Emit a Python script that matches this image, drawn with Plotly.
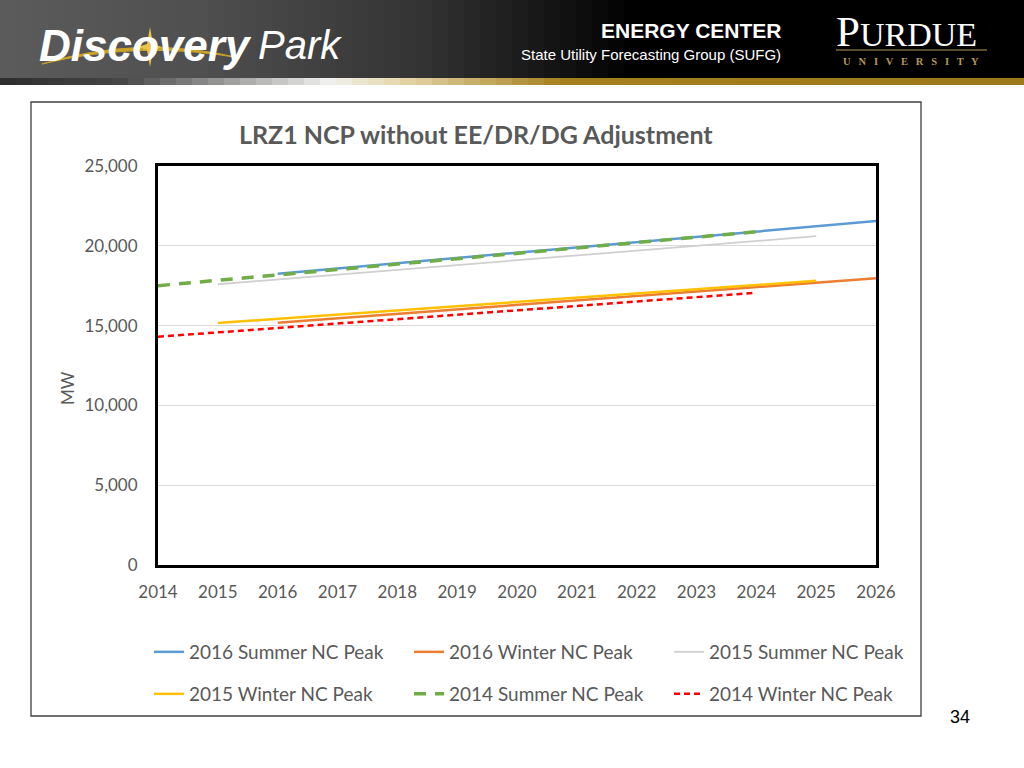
import plotly.graph_objects as go

W, H = 1024, 768

# ---------------- data ----------------
years_2016 = list(range(2016, 2027))
years_2015 = list(range(2015, 2026))
years_2014 = list(range(2014, 2025))

summer_2016 = [18250, 18580, 18910, 19240, 19570, 19900, 20230, 20560, 20890, 21220, 21550]
winter_2016 = [15180, 15460, 15740, 16020, 16300, 16580, 16860, 17140, 17420, 17700, 17970]
summer_2015 = [17590, 17890, 18190, 18490, 18790, 19090, 19390, 19690, 19990, 20290, 20600]
winter_2015 = [15160, 15420, 15690, 15950, 16220, 16480, 16750, 17010, 17280, 17540, 17810]
summer_2014 = [17500, 17840, 18180, 18520, 18860, 19190, 19530, 19870, 20210, 20540, 20880]
winter_2014 = [14300, 14580, 14850, 15130, 15400, 15680, 15960, 16230, 16510, 16780, 17060]

x_ticks = list(range(2014, 2027))
y_ticks = [0, 5000, 10000, 15000, 20000, 25000]
y_tick_labels = ["0", "5,000", "10,000", "15,000", "20,000", "25,000"]

title_text = "LRZ1 NCP without EE/DR/DG Adjustment"
FONT = "Lato, 'Noto Sans', sans-serif"
TXT = "#595959"


def px(x):
    return x / W


def py(y):
    return 1 - y / H


fig = go.Figure()

series = [
    ("2016 Summer NC Peak", years_2016, summer_2016, dict(color="#5b9bd5", width=2.5), "legend"),
    ("2016 Winter NC Peak", years_2016, winter_2016, dict(color="#ed7d31", width=2.5), "legend"),
    ("2015 Summer NC Peak", years_2015, summer_2015, dict(color="#cfcfcf", width=1.8), "legend"),
    ("2015 Winter NC Peak", years_2015, winter_2015, dict(color="#ffc000", width=2.5), "legend2"),
    ("2014 Summer NC Peak", years_2014, summer_2014, dict(color="#70ad47", width=3.5, dash="12px,9px"), "legend2"),
    ("2014 Winter NC Peak", years_2014, winter_2014, dict(color="#ff0000", width=2.5, dash="6px,4px"), "legend2"),
]
for name, xs, ys, line, lg in series:
    fig.add_trace(go.Scatter(x=xs, y=ys, mode="lines", name=name, line=line, legend=lg))

shapes = []
# header background gradient (decorative)
n = 64
for i in range(n):
    x0 = i * W / n
    xc = x0 + W / n / 2
    if xc < 200:
        g = 92 - 12 * xc / 200
    elif xc < 420:
        g = 80 - 28 * (xc - 200) / 220
    elif xc < 640:
        g = 52 - 52 * (xc - 420) / 220
    else:
        g = 0
    g = int(max(0, g))
    shapes.append(dict(type="rect", xref="paper", yref="paper", x0=px(x0), x1=px(x0 + W / n + 1),
                       y0=py(78), y1=py(0), fillcolor=f"rgb({g},{g},{g})", line=dict(width=0), layer="below"))
# gold strip
stops = [(0, (45, 45, 45)), (120, (70, 70, 70)), (330, (240, 240, 238)), (400, (230, 215, 170)),
         (560, (165, 128, 30)), (1024, (155, 120, 28))]


def strip_col(x):
    for (a, ca), (b, cb) in zip(stops[:-1], stops[1:]):
        if a <= x <= b:
            t = (x - a) / (b - a)
            return tuple(int(ca[k] + (cb[k] - ca[k]) * t) for k in range(3))
    return stops[-1][1]


for i in range(n):
    x0 = i * W / n
    c = strip_col(x0 + W / n / 2)
    shapes.append(dict(type="rect", xref="paper", yref="paper", x0=px(x0), x1=px(x0 + W / n + 1),
                       y0=py(85), y1=py(78), fillcolor=f"rgb{c}", line=dict(width=0), layer="below"))

# gold swoosh and star in logo
shapes.append(dict(type="path", xref="paper", yref="paper",
                   path=f"M {px(42)},{py(64)} Q {px(140)},{py(34)} {px(240)},{py(58)} Q {px(140)},{py(40)} {px(42)},{py(64)} Z",
                   fillcolor="#c9a227", line=dict(color="#c9a227", width=1)))
sx, sy = 150, 47
shapes.append(dict(type="path", xref="paper", yref="paper",
                   path=(f"M {px(sx)},{py(sy-20)} L {px(sx+3)},{py(sy-3)} L {px(sx+12)},{py(sy)} L {px(sx+3)},{py(sy+3)} "
                         f"L {px(sx)},{py(sy+20)} L {px(sx-3)},{py(sy+3)} L {px(sx-12)},{py(sy)} L {px(sx-3)},{py(sy-3)} Z"),
                   fillcolor="#e8c547", line=dict(width=0)))
# Purdue rule
shapes.append(dict(type="line", xref="paper", yref="paper", x0=px(836), x1=px(987), y0=py(50), y1=py(50),
                   line=dict(color="#b5985a", width=1)))
# outer chart box
shapes.append(dict(type="rect", xref="paper", yref="paper", x0=px(31), x1=px(921), y0=py(716), y1=py(102),
                   line=dict(color="#3f3f3f", width=1.3), fillcolor="rgba(0,0,0,0)", layer="below"))

annotations = [
    dict(text="<b><i>Discovery</i></b>", x=px(37), y=py(45), xanchor="left", yanchor="middle",
         font=dict(family="'Liberation Sans', Arial", size=44, color="white")),
    dict(text="<i>Park</i>", x=px(256), y=py(45), xanchor="left", yanchor="middle",
         font=dict(family="'Liberation Sans', Arial", size=40, color="white")),
    dict(text="<b>ENERGY CENTER</b>", x=px(783), y=py(30), xanchor="right", yanchor="middle",
         font=dict(family="'Liberation Sans', Arial", size=21, color="white")),
    dict(text="State Utility Forecasting Group (SUFG)", x=px(783), y=py(54), xanchor="right", yanchor="middle",
         font=dict(family="'Liberation Sans', Arial", size=15, color="white")),
    dict(text='<span style="font-size:43px">P</span>URDUE', x=px(834), y=py(31), xanchor="left", yanchor="middle",
         font=dict(family="'Liberation Serif', 'DejaVu Serif', serif", size=34, color="white")),
    dict(text="<b>U   N   I   V   E   R   S   I   T   Y</b>", x=px(911), y=py(61), xanchor="center", yanchor="middle",
         font=dict(family="'Liberation Serif', 'DejaVu Serif', serif", size=10.5, color="#b5985a")),
    dict(text=f"<b>{title_text}</b>", x=px(476), y=py(134), xanchor="center", yanchor="middle",
         font=dict(family=FONT, size=25, color=TXT)),
    dict(text="MW", x=px(67), y=py(388), xanchor="center", yanchor="middle", textangle=-90,
         font=dict(family=FONT, size=17, color=TXT)),
    dict(text="34", x=px(960), y=py(717), xanchor="center", yanchor="middle",
         font=dict(family="'Liberation Sans', Arial", size=18, color="black")),
]
for a in annotations:
    a.update(xref="paper", yref="paper", showarrow=False)

fig.update_layout(
    width=W, height=H,
    margin=dict(l=0, r=0, t=0, b=0, autoexpand=False),
    paper_bgcolor="white", plot_bgcolor="white",
    shapes=shapes, annotations=annotations,
    font=dict(family=FONT, color=TXT, size=17),
    xaxis=dict(domain=[px(158), px(876)], range=[2014, 2026], tickvals=x_ticks,
               ticktext=[str(v) for v in x_ticks], showgrid=False, zeroline=False,
               showline=True, linecolor="black", linewidth=3, mirror=True,
               ticks="", ticklabelstandoff=10, tickfont=dict(size=17, color=TXT)),
    yaxis=dict(domain=[py(565), py(166)], range=[0, 25000], tickvals=y_ticks, ticktext=y_tick_labels,
               showgrid=True, gridcolor="#d9d9d9", gridwidth=1, zeroline=False,
               showline=True, linecolor="black", linewidth=3, mirror=True,
               ticks="", ticklabelstandoff=14, tickfont=dict(size=17, color=TXT)),
    legend=dict(orientation="h", x=px(149), y=py(652), xanchor="left", yanchor="middle",
                entrywidth=215, entrywidthmode="pixels", font=dict(size=19, color=TXT, family=FONT),
                bgcolor="rgba(0,0,0,0)"),
    legend2=dict(orientation="h", x=px(149), y=py(694), xanchor="left", yanchor="middle",
                 entrywidth=215, entrywidthmode="pixels", font=dict(size=19, color=TXT, family=FONT),
                 bgcolor="rgba(0,0,0,0)"),
    showlegend=True,
)

fig.write_html("out.html", config={"displayModeBar": False},
               post_script="document.body.style.margin='0';")
